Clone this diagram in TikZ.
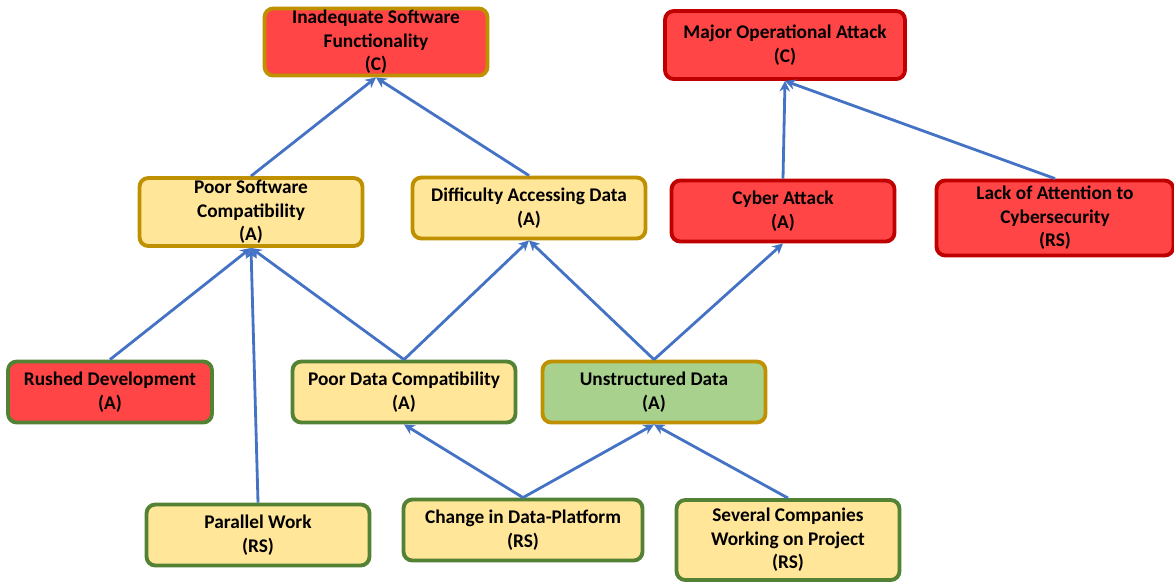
\documentclass[tikz,border=0pt]{standalone}
\usepackage{fontspec}
\setmainfont{Carlito}
\usetikzlibrary{arrows.meta,positioning}
\definecolor{critred}{RGB}{255,69,69}
\definecolor{darkred}{RGB}{192,0,0}
\definecolor{goldline}{RGB}{191,144,0}
\definecolor{greenline}{RGB}{84,130,53}
\definecolor{paleyellow}{RGB}{255,230,153}
\definecolor{palegreen}{RGB}{169,209,142}
\definecolor{arrowblue}{RGB}{68,114,196}

\begin{document}
\begin{tikzpicture}[
    x=0.02cm, y=-0.02cm,
    every node/.style={font=\fontsize{11}{13.4}\selectfont\bfseries},
    box/.style={draw, rounded corners=5pt, line width=2.2pt, align=center,
                minimum width=4.46cm, minimum height=1.22cm, inner sep=1pt},
    crit/.style={box, fill=critred},
    soft/.style={box, fill=paleyellow},
    arrow/.style={-{Stealth[length=6pt,width=6pt]}, line width=1.6pt, arrowblue}
]
\useasboundingbox (0,0) rectangle (1174,583);

% Consequences
\node[crit, draw=goldline, minimum height=1.34cm] (isf) at (376,42) {Inadequate Software\\Functionality\\(C)};
\node[crit, draw=darkred, minimum width=4.8cm, minimum height=1.36cm] (moa) at (785,45) {Major Operational Attack\\(C)};

% Second row
\node[soft, draw=goldline, minimum height=1.36cm] (psc) at (251,212) {Poor Software\\Compatibility\\(A)};
\node[soft, draw=goldline, minimum width=4.66cm] (dad) at (529,208) {Difficulty Accessing Data\\(A)};
\node[crit, draw=darkred] (cyb) at (783,211) {Cyber Attack\\(A)};
\node[crit, draw=darkred, minimum width=4.74cm, minimum height=1.5cm] (lac) at (1055,218) {Lack of Attention to\\Cybersecurity\\(RS)};

% Third row
\node[crit, draw=greenline, minimum width=4.08cm] (rus) at (110,392) {Rushed Development\\(A)};
\node[soft, draw=greenline] (pdc) at (404,392) {Poor Data Compatibility\\(A)};
\node[box, fill=palegreen, draw=goldline] (uns) at (654,392) {Unstructured Data\\(A)};

% Root sources
\node[soft, draw=greenline] (par) at (258,535) {Parallel Work\\(RS)};
\node[soft, draw=greenline, minimum width=4.78cm] (chg) at (523,530) {Change in Data-Platform\\(RS)};
\node[soft, draw=greenline, minimum height=1.6cm] (sev) at (788,540) {Several Companies\\Working on Project\\(RS)};

% Arrows
\draw[arrow] (psc.north) -- (isf.south);
\draw[arrow] (dad.north) -- (isf.south);
\draw[arrow] (cyb.north) -- (moa.south);
\draw[arrow] (lac.north) -- (moa.south);
\draw[arrow] (rus.north) -- (psc.south);
\draw[arrow] (par.north) -- (psc.south);
\draw[arrow] (pdc.north) -- (psc.south);
\draw[arrow] (pdc.north) -- (dad.south);
\draw[arrow] (uns.north) -- (dad.south);
\draw[arrow] (uns.north) -- (cyb.south);
\draw[arrow] (chg.north) -- (pdc.south);
\draw[arrow] (chg.north) -- (uns.south);
\draw[arrow] (sev.north) -- (uns.south);

\end{tikzpicture}
\end{document}
